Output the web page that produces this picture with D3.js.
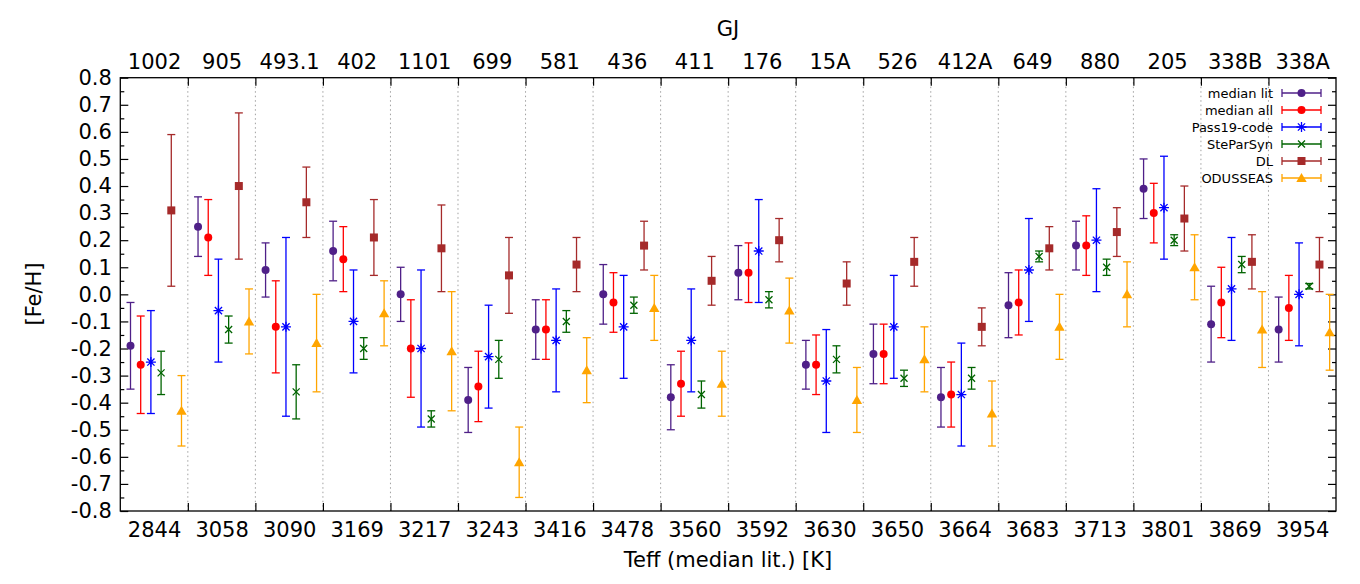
<!DOCTYPE html>
<html>
<head>
<meta charset="utf-8">
<script src="https://cdn.jsdelivr.net/npm/d3@7"></script>
<style>
  body { margin: 0; background: #fff; }
  svg { font-family: "DejaVu Sans", sans-serif; }
</style>
</head>
<body>
<svg id="chart" width="1360" height="584"></svg>
<script>
// stars: Teff (median lit.) and GJ names
var teff = ["2844","3058","3090","3169","3217","3243","3416","3478","3560","3592","3630","3650","3664","3683","3713","3801","3869","3954"];
var gj = ["1002","905","493.1","402","1101","699","581","436","411","176","15A","526","412A","649","880","205","338B","338A"];

// [Fe/H] value, lower, upper per star
var medianLit = [
  [-0.19,-0.35,-0.03],[0.25,0.14,0.36],[0.09,-0.01,0.19],[0.16,0.05,0.27],[0.00,-0.10,0.10],[-0.39,-0.51,-0.27],
  [-0.13,-0.24,-0.02],[0.00,-0.11,0.11],[-0.38,-0.50,-0.26],[0.08,-0.02,0.18],[-0.26,-0.35,-0.17],[-0.22,-0.33,-0.11],
  [-0.38,-0.49,-0.27],[-0.04,-0.16,0.08],[0.18,0.09,0.27],[0.39,0.28,0.50],[-0.11,-0.25,0.03],[-0.13,-0.25,-0.01]];
var medianAll = [
  [-0.26,-0.44,-0.08],[0.21,0.07,0.35],[-0.12,-0.29,0.05],[0.13,0.01,0.25],[-0.20,-0.38,-0.02],[-0.34,-0.47,-0.21],
  [-0.13,-0.24,-0.02],[-0.03,-0.14,0.08],[-0.33,-0.45,-0.21],[0.08,-0.03,0.19],[-0.26,-0.37,-0.15],[-0.22,-0.33,-0.11],
  [-0.37,-0.49,-0.25],[-0.03,-0.15,0.09],[0.18,0.07,0.29],[0.30,0.19,0.41],[-0.03,-0.16,0.10],[-0.05,-0.17,0.07]];
var pass19 = [
  [-0.25,-0.44,-0.06],[-0.06,-0.25,0.13],[-0.12,-0.45,0.21],[-0.10,-0.29,0.09],[-0.20,-0.49,0.09],[-0.23,-0.42,-0.04],
  [-0.17,-0.36,0.02],[-0.12,-0.31,0.07],[-0.17,-0.36,0.02],[0.16,-0.03,0.35],[-0.32,-0.51,-0.13],[-0.12,-0.31,0.07],
  [-0.37,-0.56,-0.18],[0.09,-0.10,0.28],[0.20,0.01,0.39],[0.32,0.13,0.51],[0.02,-0.17,0.21],[0.00,-0.19,0.19]];
var steParSyn = [
  [-0.29,-0.37,-0.21],[-0.13,-0.18,-0.08],[-0.36,-0.46,-0.26],[-0.20,-0.24,-0.16],[-0.46,-0.49,-0.43],[-0.24,-0.31,-0.17],
  [-0.10,-0.14,-0.06],[-0.04,-0.07,-0.01],[-0.37,-0.42,-0.32],[-0.02,-0.05,0.01],[-0.24,-0.29,-0.19],[-0.31,-0.34,-0.28],
  [-0.31,-0.35,-0.27],[0.14,0.12,0.16],[0.10,0.07,0.13],[0.20,0.18,0.22],[0.11,0.08,0.14],[0.03,0.02,0.04]];
var dl = [
  [0.31,0.03,0.59],[0.40,0.13,0.67],[0.34,0.21,0.47],[0.21,0.07,0.35],[0.17,0.01,0.33],[0.07,-0.07,0.21],
  [0.11,0.01,0.21],[0.18,0.09,0.27],[0.05,-0.04,0.14],[0.20,0.12,0.28],[0.04,-0.04,0.12],[0.12,0.03,0.21],
  [-0.12,-0.19,-0.05],[0.17,0.09,0.25],[0.23,0.14,0.32],[0.28,0.16,0.40],[0.12,0.02,0.22],[0.11,0.01,0.21]];
var odusseas = [
  [-0.43,-0.56,-0.30],[-0.10,-0.22,0.02],[-0.18,-0.36,0.00],[-0.07,-0.19,0.05],[-0.21,-0.43,0.01],[-0.62,-0.75,-0.49],
  [-0.28,-0.40,-0.16],[-0.05,-0.17,0.07],[-0.33,-0.45,-0.21],[-0.06,-0.18,0.06],[-0.39,-0.51,-0.27],[-0.24,-0.36,-0.12],
  [-0.44,-0.56,-0.32],[-0.12,-0.24,0.00],[0.00,-0.12,0.12],[0.10,-0.02,0.22],[-0.13,-0.27,0.01],[-0.14,-0.28,0.00]];

var yTicks = [-0.8,-0.7,-0.6,-0.5,-0.4,-0.3,-0.2,-0.1,0.0,0.1,0.2,0.3,0.4,0.5,0.6,0.7,0.8];

var series = [
  { name: "median lit", data: medianLit, color: "#4f2088", symbol: "circle" },
  { name: "median all", data: medianAll, color: "#ff0000", symbol: "circle" },
  { name: "Pass19-code", data: pass19, color: "#0000ff", symbol: "asterisk" },
  { name: "SteParSyn", data: steParSyn, color: "#006400", symbol: "cross" },
  { name: "DL", data: dl, color: "#a52a2a", symbol: "square" },
  { name: "ODUSSEAS", data: odusseas, color: "#ffa500", symbol: "triangle" }
];

var margins = { top: 77.7, bottom: 73, left: 120.3, right: 24 };
var screen = { width: 1360, height: 584 };
var x0 = margins.left, x1 = screen.width - margins.right;
var yTop = margins.top, yBot = screen.height - margins.bottom;
var fontSize = "21px";

var svg = d3.select("#chart");

var x = d3.scaleBand().domain(d3.range(teff.length)).range([x0, x1]);
var xLin = d3.scaleLinear().domain([0, teff.length]).range([x0, x1]);
var inner = d3.scalePoint().domain(series.map(s => s.name))
  .range([x.bandwidth() * 0.151, x.bandwidth() * 0.906]);
var y = d3.scaleLinear().domain([-0.8, 0.8]).range([yBot, yTop]);

var bounds = d3.range(1, teff.length);
var centers = d3.range(teff.length).map(i => i + 0.5);
var minor = d3.range(-0.75, 0.8, 0.1);

// grid
svg.append("g")
  .selectAll("line")
  .data(bounds)
  .join("line")
    .attr("x1", d => xLin(d)).attr("x2", d => xLin(d))
    .attr("y1", yTop).attr("y2", yBot)
    .attr("stroke", "#a0a0a0")
    .attr("stroke-width", 1)
    .attr("stroke-dasharray", "1.5,3");

function styleAxis(g) {
  g.select(".domain").remove();
  g.selectAll("line").attr("stroke", "#000").attr("stroke-width", 1.2);
  g.selectAll("text").attr("fill", "#000").style("font-size", fontSize)
    .style("font-family", "'DejaVu Sans', sans-serif");
}

// bottom ticks + labels
svg.append("g").attr("transform", `translate(0,${yBot})`)
  .call(d3.axisBottom(xLin).tickValues(bounds).tickSize(-8).tickFormat(""))
  .call(styleAxis);
svg.append("g").attr("transform", `translate(0,${yBot})`)
  .call(d3.axisBottom(xLin).tickValues(centers).tickSize(0).tickPadding(11).tickFormat(d => teff[d - 0.5]))
  .call(styleAxis);

// top ticks + labels
svg.append("g").attr("transform", `translate(0,${yTop})`)
  .call(d3.axisTop(xLin).tickValues(bounds).tickSize(-8).tickFormat(""))
  .call(styleAxis);
svg.append("g").attr("transform", `translate(0,${yTop})`)
  .call(d3.axisTop(xLin).tickValues(centers).tickSize(0).tickPadding(8.5).tickFormat(d => gj[d - 0.5]))
  .call(styleAxis);

// y axes
svg.append("g").attr("transform", `translate(${x0},0)`)
  .call(d3.axisLeft(y).tickValues(yTicks).tickSize(-8).tickPadding(8.5).tickFormat(d => d.toFixed(1)))
  .call(styleAxis);
svg.append("g").attr("transform", `translate(${x0},0)`)
  .call(d3.axisLeft(y).tickValues(minor).tickSize(-4).tickFormat(""))
  .call(styleAxis);
svg.append("g").attr("transform", `translate(${x1},0)`)
  .call(d3.axisRight(y).tickValues(yTicks).tickSize(-8).tickFormat(""))
  .call(styleAxis);
svg.append("g").attr("transform", `translate(${x1},0)`)
  .call(d3.axisRight(y).tickValues(minor).tickSize(-4).tickFormat(""))
  .call(styleAxis);

// frame
svg.append("rect")
  .attr("x", x0).attr("y", yTop)
  .attr("width", x1 - x0).attr("height", yBot - yTop)
  .attr("fill", "none").attr("stroke", "#000").attr("stroke-width", 1.3);

// marker drawing
function drawMarker(g, symbol, color) {
  if (symbol === "circle") {
    g.append("circle").attr("r", 4).attr("fill", color);
  } else if (symbol === "square") {
    g.append("rect").attr("x", -4).attr("y", -4).attr("width", 8).attr("height", 8).attr("fill", color);
  } else if (symbol === "triangle") {
    g.append("path").attr("d", "M0,-5L5.2,4L-5.2,4Z").attr("fill", color);
  } else if (symbol === "asterisk") {
    g.append("path").attr("d", "M-5,0H5M0,-5V5M-3.6,-3.6L3.6,3.6M-3.6,3.6L3.6,-3.6")
      .attr("stroke", color).attr("stroke-width", 1.3).attr("fill", "none");
  } else if (symbol === "cross") {
    g.append("path").attr("d", "M-3.5,-3.5L3.5,3.5M-3.5,3.5L3.5,-3.5")
      .attr("stroke", color).attr("stroke-width", 1.3).attr("fill", "none");
  }
}

var cap = 4;
series.forEach(function(s) {
  var g = svg.append("g");
  var pts = g.selectAll("g")
    .data(s.data.map((d, i) => ({ i: i, v: d[0], lo: d[1], hi: d[2] })))
    .join("g")
      .attr("transform", d => `translate(${x(d.i) + inner(s.name)},0)`);
  pts.append("line").attr("y1", d => y(d.lo)).attr("y2", d => y(d.hi))
    .attr("stroke", s.color).attr("stroke-width", 1.3);
  pts.append("line").attr("x1", -cap).attr("x2", cap).attr("y1", d => y(d.lo)).attr("y2", d => y(d.lo))
    .attr("stroke", s.color).attr("stroke-width", 1.3);
  pts.append("line").attr("x1", -cap).attr("x2", cap).attr("y1", d => y(d.hi)).attr("y2", d => y(d.hi))
    .attr("stroke", s.color).attr("stroke-width", 1.3);
  pts.each(function(d) {
    var m = d3.select(this).append("g").attr("transform", `translate(0,${y(d.v)})`);
    drawMarker(m, s.symbol, s.color);
  });
});

// legend
var legend = svg.append("g").attr("transform", "translate(1273,93)");
series.forEach(function(s, k) {
  var row = legend.append("g").attr("transform", `translate(0,${k * 17})`);
  row.append("text").attr("x", 0).attr("y", 0).attr("dy", "0.35em")
    .attr("text-anchor", "end").style("font-size", "13px").attr("fill", "#000").text(s.name);
  row.append("line").attr("x1", 9).attr("x2", 48).attr("stroke", s.color).attr("stroke-width", 1.3);
  row.append("line").attr("x1", 9).attr("x2", 9).attr("y1", -4).attr("y2", 4).attr("stroke", s.color).attr("stroke-width", 1.3);
  row.append("line").attr("x1", 48).attr("x2", 48).attr("y1", -4).attr("y2", 4).attr("stroke", s.color).attr("stroke-width", 1.3);
  var m = row.append("g").attr("transform", "translate(28.5,0)");
  drawMarker(m, s.symbol, s.color);
});

// axis titles
svg.append("text").attr("x", 728).attr("y", 36).attr("text-anchor", "middle")
  .style("font-size", fontSize).text("GJ");
svg.append("text").attr("x", 728).attr("y", 567).attr("text-anchor", "middle")
  .style("font-size", fontSize).text("Teff (median lit.) [K]");
svg.append("text").attr("transform", "translate(41,294) rotate(-90)").attr("text-anchor", "middle")
  .style("font-size", fontSize).text("[Fe/H]");
</script>
</body>
</html>
